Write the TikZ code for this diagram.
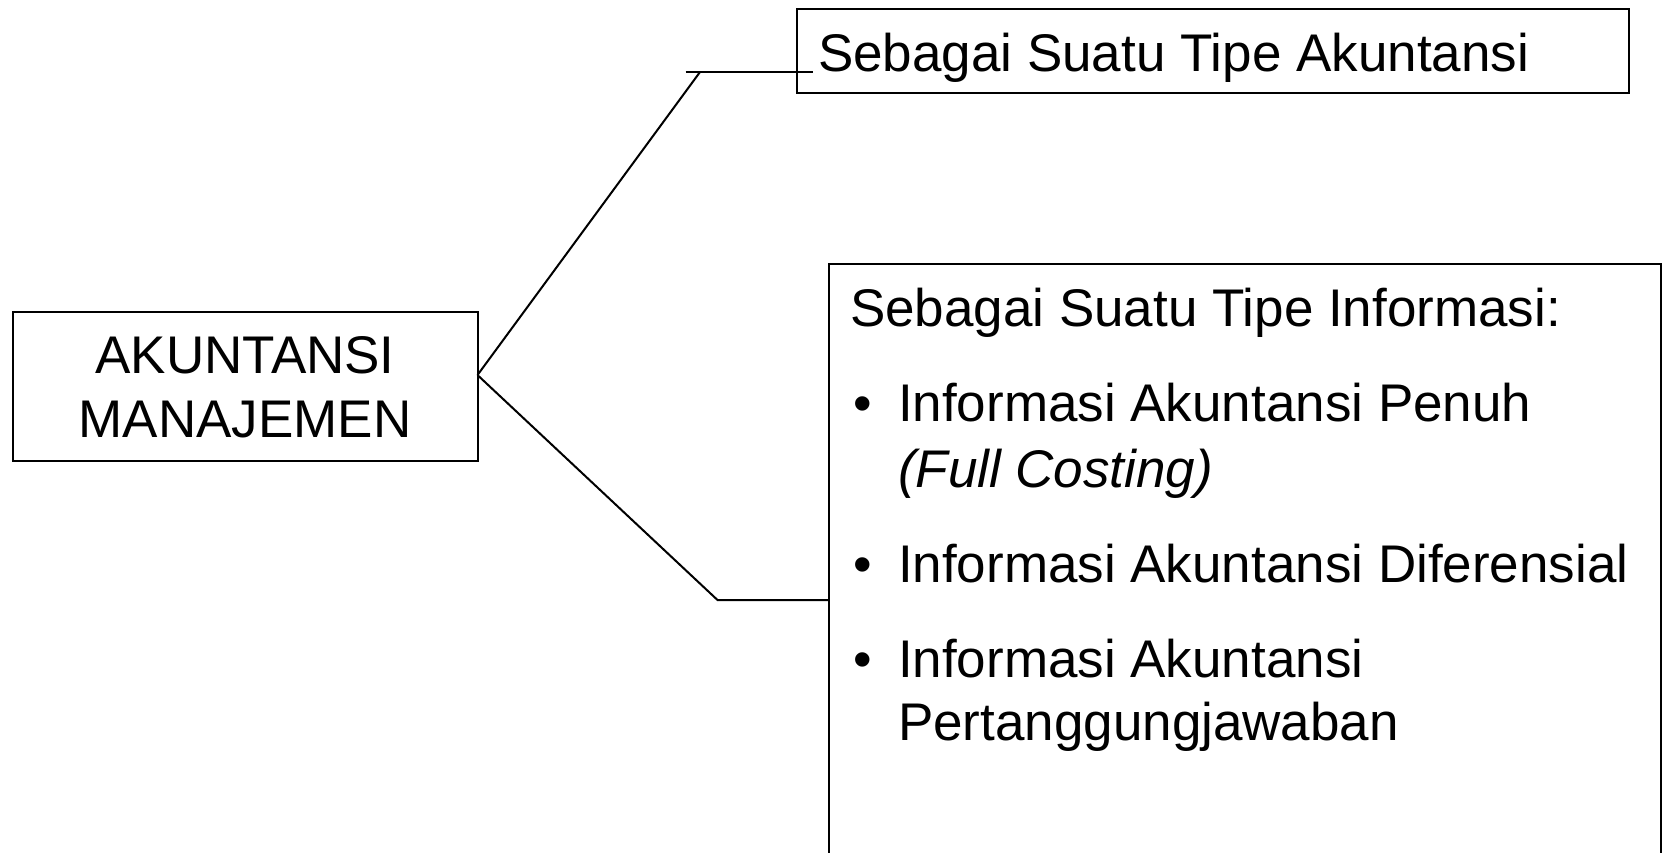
\documentclass[tikz,border=0pt]{standalone}
\usepackage{fontspec}
\setmainfont{Liberation Sans}
\usetikzlibrary{calc}
\begin{document}
\begin{tikzpicture}[x=1pt,y=-1pt,line width=2pt,
  box/.style={draw=black,rectangle,inner sep=0pt,outer sep=0pt,anchor=north west},
  txt/.style={inner sep=0pt,outer sep=0pt,font=\fontsize{53}{63}\selectfont}]
\useasboundingbox (0,0) rectangle (1664,852);
\clip (0,0) rectangle (1664,852);
\fill[white] (0,0) rectangle (1664,852);
% boxes
\node[box,minimum width=465pt,minimum height=149pt] (am) at (12.5,312) {};
\node[box,minimum width=832pt,minimum height=84pt] (sa) at (797,8.5) {};
\node[box,minimum width=832pt,minimum height=700pt] (si) at (829,264) {};
% texts
\node[txt,anchor=base] (am1) at (245,373.5) {AKUNTANSI};
\node[txt,anchor=base] (am2) at (245,437) {MANAJEMEN};
\node[txt,anchor=base west] (sat) at (818,71) {Sebagai Suatu Tipe Akuntansi};
\node[txt,anchor=base west] (sit) at (850,326) {Sebagai Suatu Tipe Informasi:};
\node[txt,anchor=base west] (b1) at (853,421) {•};
\node[txt,anchor=base west] (i1) at (898,421) {Informasi Akuntansi Penuh};
\node[txt,anchor=base west] (i1b) at (898,487) {\itshape (Full Costing)};
\node[txt,anchor=base west] (b2) at (853,582) {•};
\node[txt,anchor=base west] (i2) at (898,582) {Informasi Akuntansi Diferensial};
\node[txt,anchor=base west] (b3) at (853,677) {•};
\node[txt,anchor=base west] (i3) at (898,677) {Informasi Akuntansi};
\node[txt,anchor=base west] (i3b) at (898,740) {Pertanggungjawaban};
% connectors
\coordinate (j) at ($(am.north east)!0.423!(am.south east)$);
\coordinate (k1) at (700,72);
\coordinate (h1) at (685.5,72);
\coordinate (h1e) at (813,72);
\coordinate (k2) at (717.5,600);
\draw (j) -- (k1);
\draw (h1) -- (h1e);
\draw (j) -- (k2) -- (k2 -| si.west);
\end{tikzpicture}
\end{document}
